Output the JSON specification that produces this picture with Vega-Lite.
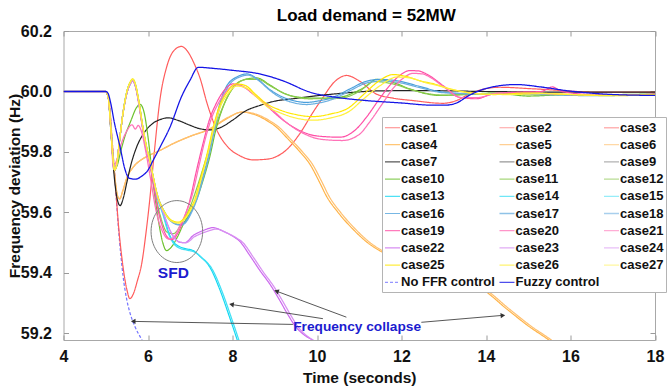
{
"$schema":"https://vega.github.io/schema/vega-lite/v6.json",
"width":591.5,"height":309,
"autosize":{"type":"none"},
"padding":{"left":63.5,"top":31,"right":12,"bottom":47},
"background":"white",
"config":{"view":{"stroke":"#a8a8a8","strokeWidth":1},"font":"Liberation Sans"},
"title":{"text":"Load demand = 52MW","fontSize":17,"fontWeight":"bold","font":"Liberation Sans","frame":"group","anchor":"middle","dx":7,"offset":-2,"color":"#000"},
"datasets":{
"curves":[
{"s":"No FFR control","t":4,"f":60},{"s":"No FFR control","t":5.0,"f":60},{"s":"No FFR control","t":5.05,"f":59.99},{"s":"No FFR control","t":5.1,"f":59.94},{"s":"No FFR control","t":5.15,"f":59.84},{"s":"No FFR control","t":5.22,"f":59.706},{"s":"No FFR control","t":5.3,"f":59.55},{"s":"No FFR control","t":5.41,"f":59.39},{"s":"No FFR control","t":5.5,"f":59.31},{"s":"No FFR control","t":5.57,"f":59.27},{"s":"No FFR control","t":5.7,"f":59.22},{"s":"No FFR control","t":5.85,"f":59.18},{"s":"No FFR control","t":5.95,"f":59.15},

{"s":"case1","t":4,"f":60},{"s":"case1","t":5.0,"f":60},{"s":"case1","t":5.05,"f":59.99},{"s":"case1","t":5.1,"f":59.94},{"s":"case1","t":5.15,"f":59.84},{"s":"case1","t":5.22,"f":59.71},{"s":"case1","t":5.3,"f":59.56},{"s":"case1","t":5.4,"f":59.43},{"s":"case1","t":5.5,"f":59.345},{"s":"case1","t":5.57,"f":59.315},{"s":"case1","t":5.65,"f":59.33},{"s":"case1","t":5.75,"f":59.375},{"s":"case1","t":5.85,"f":59.43},{"s":"case1","t":5.95,"f":59.53},{"s":"case1","t":6.04,"f":59.64},{"s":"case1","t":6.15,"f":59.8},{"s":"case1","t":6.28,"f":59.97},{"s":"case1","t":6.45,"f":60.085},{"s":"case1","t":6.6,"f":60.133},{"s":"case1","t":6.79,"f":60.149},{"s":"case1","t":6.95,"f":60.13},{"s":"case1","t":7.1,"f":60.09},{"s":"case1","t":7.23,"f":60.045},{"s":"case1","t":7.4,"f":59.96},{"s":"case1","t":7.62,"f":59.875},{"s":"case1","t":7.9,"f":59.815},{"s":"case1","t":8.17,"f":59.788},{"s":"case1","t":8.49,"f":59.774},{"s":"case1","t":8.8,"f":59.776},{"s":"case1","t":9.04,"f":59.785},{"s":"case1","t":9.3,"f":59.81},{"s":"case1","t":9.59,"f":59.86},{"s":"case1","t":9.9,"f":59.93},{"s":"case1","t":10.14,"f":59.98},{"s":"case1","t":10.4,"f":60.03},{"s":"case1","t":10.7,"f":60.053},{"s":"case1","t":11.0,"f":60.035},{"s":"case1","t":11.4,"f":59.992},{"s":"case1","t":11.8,"f":59.978},{"s":"case1","t":12.27,"f":59.97},{"s":"case1","t":12.98,"f":59.961},{"s":"case1","t":13.3,"f":59.97},{"s":"case1","t":13.61,"f":59.992},{"s":"case1","t":14.32,"f":60.014},{"s":"case1","t":15.1,"f":60.009},{"s":"case1","t":16.68,"f":59.998},{"s":"case1","t":18,"f":59.998},

{"s":"case4","t":4,"f":60},{"s":"case4","t":5.0,"f":60},{"s":"case4","t":5.06,"f":59.98},{"s":"case4","t":5.12,"f":59.88},{"s":"case4","t":5.2,"f":59.74},{"s":"case4","t":5.28,"f":59.655},{"s":"case4","t":5.33,"f":59.645},{"s":"case4","t":5.4,"f":59.67},{"s":"case4","t":5.5,"f":59.715},{"s":"case4","t":5.65,"f":59.75},{"s":"case4","t":5.85,"f":59.775},{"s":"case4","t":6.0,"f":59.787},{"s":"case4","t":6.28,"f":59.805},{"s":"case4","t":6.6,"f":59.828},{"s":"case4","t":7.0,"f":59.852},{"s":"case4","t":7.46,"f":59.875},{"s":"case4","t":7.9,"f":59.913},{"s":"case4","t":8.21,"f":59.932},{"s":"case4","t":8.5,"f":59.925},{"s":"case4","t":8.8,"f":59.905},{"s":"case4","t":9.04,"f":59.882},{"s":"case4","t":9.3,"f":59.845},{"s":"case4","t":9.6,"f":59.8},{"s":"case4","t":9.83,"f":59.76},{"s":"case4","t":10.06,"f":59.7},{"s":"case4","t":10.22,"f":59.655},{"s":"case4","t":10.5,"f":59.6},{"s":"case4","t":10.85,"f":59.545},{"s":"case4","t":11.2,"f":59.5},{"s":"case4","t":11.48,"f":59.474},{"s":"case4","t":12.0,"f":59.44},{"s":"case4","t":12.7,"f":59.405},{"s":"case4","t":13.3,"f":59.375},{"s":"case4","t":13.89,"f":59.348},{"s":"case4","t":14.5,"f":59.28},{"s":"case4","t":15.0,"f":59.225},{"s":"case4","t":15.5,"f":59.177},{"s":"case4","t":15.7,"f":59.155},

{"s":"case5","t":4,"f":60},{"s":"case5","t":5.0,"f":60},{"s":"case5","t":5.06,"f":59.98},{"s":"case5","t":5.12,"f":59.88},{"s":"case5","t":5.2,"f":59.74},{"s":"case5","t":5.28,"f":59.655},{"s":"case5","t":5.33,"f":59.645},{"s":"case5","t":5.4,"f":59.67},{"s":"case5","t":5.5,"f":59.715},{"s":"case5","t":5.65,"f":59.75},{"s":"case5","t":5.85,"f":59.775},{"s":"case5","t":6.0,"f":59.787},{"s":"case5","t":6.28,"f":59.805},{"s":"case5","t":6.6,"f":59.828},{"s":"case5","t":7.0,"f":59.852},{"s":"case5","t":7.46,"f":59.877},{"s":"case5","t":7.9,"f":59.915},{"s":"case5","t":8.25,"f":59.932},{"s":"case5","t":8.56,"f":59.925},{"s":"case5","t":8.86,"f":59.905},{"s":"case5","t":9.1,"f":59.882},{"s":"case5","t":9.36,"f":59.845},{"s":"case5","t":9.66,"f":59.8},{"s":"case5","t":9.89,"f":59.76},{"s":"case5","t":10.12,"f":59.7},{"s":"case5","t":10.28,"f":59.655},{"s":"case5","t":10.56,"f":59.6},{"s":"case5","t":10.91,"f":59.545},{"s":"case5","t":11.26,"f":59.5},{"s":"case5","t":11.54,"f":59.474},{"s":"case5","t":12.06,"f":59.44},{"s":"case5","t":12.76,"f":59.405},{"s":"case5","t":13.36,"f":59.375},{"s":"case5","t":13.95,"f":59.348},{"s":"case5","t":14.56,"f":59.28},{"s":"case5","t":15.06,"f":59.225},{"s":"case5","t":15.56,"f":59.177},{"s":"case5","t":15.76,"f":59.155},

{"s":"case7","t":4,"f":60},{"s":"case7","t":5.0,"f":60},{"s":"case7","t":5.06,"f":59.98},{"s":"case7","t":5.12,"f":59.87},{"s":"case7","t":5.2,"f":59.72},{"s":"case7","t":5.27,"f":59.645},{"s":"case7","t":5.34,"f":59.623},{"s":"case7","t":5.42,"f":59.65},{"s":"case7","t":5.5,"f":59.7},{"s":"case7","t":5.6,"f":59.76},{"s":"case7","t":5.73,"f":59.816},{"s":"case7","t":5.9,"f":59.862},{"s":"case7","t":6.1,"f":59.893},{"s":"case7","t":6.3,"f":59.908},{"s":"case7","t":6.48,"f":59.913},{"s":"case7","t":6.7,"f":59.905},{"s":"case7","t":7.0,"f":59.888},{"s":"case7","t":7.2,"f":59.878},{"s":"case7","t":7.46,"f":59.873},{"s":"case7","t":7.7,"f":59.88},{"s":"case7","t":8.0,"f":59.905},{"s":"case7","t":8.3,"f":59.935},{"s":"case7","t":8.65,"f":59.954},{"s":"case7","t":9.0,"f":59.968},{"s":"case7","t":9.43,"f":59.976},{"s":"case7","t":10.0,"f":59.986},{"s":"case7","t":10.5,"f":59.993},{"s":"case7","t":11.48,"f":60.002},{"s":"case7","t":12.5,"f":60.003},{"s":"case7","t":14,"f":60.0},{"s":"case7","t":16,"f":59.998},{"s":"case7","t":18,"f":59.998},

{"s":"case10","t":4,"f":60},{"s":"case10","t":5.0,"f":60},{"s":"case10","t":5.06,"f":59.98},{"s":"case10","t":5.12,"f":59.88},{"s":"case10","t":5.17,"f":59.78},{"s":"case10","t":5.21,"f":59.745},{"s":"case10","t":5.27,"f":59.755},{"s":"case10","t":5.35,"f":59.8},{"s":"case10","t":5.45,"f":59.85},{"s":"case10","t":5.6,"f":59.905},{"s":"case10","t":5.72,"f":59.945},{"s":"case10","t":5.81,"f":59.958},{"s":"case10","t":5.9,"f":59.935},{"s":"case10","t":6.0,"f":59.85},{"s":"case10","t":6.12,"f":59.7},{"s":"case10","t":6.25,"f":59.57},{"s":"case10","t":6.35,"f":59.5},{"s":"case10","t":6.44,"f":59.474},{"s":"case10","t":6.55,"f":59.485},{"s":"case10","t":6.7,"f":59.52},{"s":"case10","t":6.85,"f":59.565},{"s":"case10","t":7.0,"f":59.6},{"s":"case10","t":7.17,"f":59.65},{"s":"case10","t":7.3,"f":59.705},{"s":"case10","t":7.46,"f":59.783},{"s":"case10","t":7.6,"f":59.87},{"s":"case10","t":7.78,"f":59.95},{"s":"case10","t":8.01,"f":60.012},{"s":"case10","t":8.25,"f":60.038},{"s":"case10","t":8.57,"f":60.045},{"s":"case10","t":8.9,"f":60.02},{"s":"case10","t":9.2,"f":59.995},{"s":"case10","t":9.59,"f":59.981},{"s":"case10","t":10.0,"f":59.978},{"s":"case10","t":10.54,"f":59.981},{"s":"case10","t":10.85,"f":59.995},{"s":"case10","t":11.17,"f":60.018},{"s":"case10","t":11.4,"f":60.04},{"s":"case10","t":11.8,"f":60.03},{"s":"case10","t":12.19,"f":60.009},{"s":"case10","t":12.9,"f":59.987},{"s":"case10","t":13.5,"f":59.99},{"s":"case10","t":14.2,"f":59.995},{"s":"case10","t":15,"f":59.985},{"s":"case10","t":16,"f":59.99},{"s":"case10","t":17,"f":59.99},{"s":"case10","t":18,"f":59.992},

{"s":"case11","t":4,"f":60},{"s":"case11","t":5.0,"f":60},{"s":"case11","t":5.06,"f":59.98},{"s":"case11","t":5.12,"f":59.88},{"s":"case11","t":5.17,"f":59.78},{"s":"case11","t":5.21,"f":59.74},{"s":"case11","t":5.26,"f":59.76},{"s":"case11","t":5.32,"f":59.83},{"s":"case11","t":5.4,"f":59.92},{"s":"case11","t":5.5,"f":59.995},{"s":"case11","t":5.58,"f":60.025},{"s":"case11","t":5.64,"f":60.035},{"s":"case11","t":5.7,"f":60.02},{"s":"case11","t":5.78,"f":59.965},{"s":"case11","t":5.88,"f":59.875},{"s":"case11","t":5.96,"f":59.815},{"s":"case11","t":6.04,"f":59.765},{"s":"case11","t":6.15,"f":59.68},{"s":"case11","t":6.3,"f":59.585},{"s":"case11","t":6.45,"f":59.535},{"s":"case11","t":6.6,"f":59.53},{"s":"case11","t":6.8,"f":59.565},{"s":"case11","t":7.0,"f":59.62},{"s":"case11","t":7.2,"f":59.7},{"s":"case11","t":7.4,"f":59.79},{"s":"case11","t":7.6,"f":59.885},{"s":"case11","t":7.8,"f":59.958},{"s":"case11","t":8.05,"f":60.018},{"s":"case11","t":8.35,"f":60.04},{"s":"case11","t":8.6,"f":60.04},{"s":"case11","t":8.9,"f":60.018},{"s":"case11","t":9.3,"f":59.99},{"s":"case11","t":9.8,"f":59.976},{"s":"case11","t":10.5,"f":59.977},{"s":"case11","t":11.0,"f":60.0},{"s":"case11","t":11.35,"f":60.033},{"s":"case11","t":11.8,"f":60.025},{"s":"case11","t":12.3,"f":60.003},{"s":"case11","t":13,"f":59.988},{"s":"case11","t":14,"f":59.993},{"s":"case11","t":15,"f":59.99},{"s":"case11","t":16.5,"f":59.99},{"s":"case11","t":18,"f":59.99},

{"s":"case13","t":4,"f":60},{"s":"case13","t":5.0,"f":60},{"s":"case13","t":5.06,"f":59.98},{"s":"case13","t":5.12,"f":59.88},{"s":"case13","t":5.17,"f":59.78},{"s":"case13","t":5.21,"f":59.74},{"s":"case13","t":5.26,"f":59.76},{"s":"case13","t":5.32,"f":59.83},{"s":"case13","t":5.4,"f":59.92},{"s":"case13","t":5.5,"f":60.0},{"s":"case13","t":5.58,"f":60.03},{"s":"case13","t":5.64,"f":60.04},{"s":"case13","t":5.7,"f":60.025},{"s":"case13","t":5.78,"f":59.97},{"s":"case13","t":5.88,"f":59.88},{"s":"case13","t":5.96,"f":59.82},{"s":"case13","t":6.04,"f":59.772},{"s":"case13","t":6.12,"f":59.72},{"s":"case13","t":6.2,"f":59.665},{"s":"case13","t":6.36,"f":59.596},{"s":"case13","t":6.5,"f":59.53},{"s":"case13","t":6.62,"f":59.5},{"s":"case13","t":6.75,"f":59.487},{"s":"case13","t":6.91,"f":59.48},{"s":"case13","t":7.07,"f":59.474},{"s":"case13","t":7.23,"f":59.455},{"s":"case13","t":7.46,"f":59.42},{"s":"case13","t":7.7,"f":59.345},{"s":"case13","t":7.94,"f":59.25},{"s":"case13","t":8.09,"f":59.188},{"s":"case13","t":8.2,"f":59.14},

{"s":"case14","t":4,"f":60},{"s":"case14","t":5.0,"f":60},{"s":"case14","t":5.06,"f":59.98},{"s":"case14","t":5.12,"f":59.88},{"s":"case14","t":5.17,"f":59.78},{"s":"case14","t":5.21,"f":59.74},{"s":"case14","t":5.26,"f":59.76},{"s":"case14","t":5.32,"f":59.83},{"s":"case14","t":5.4,"f":59.92},{"s":"case14","t":5.5,"f":59.995},{"s":"case14","t":5.58,"f":60.025},{"s":"case14","t":5.64,"f":60.035},{"s":"case14","t":5.7,"f":60.02},{"s":"case14","t":5.78,"f":59.965},{"s":"case14","t":5.88,"f":59.875},{"s":"case14","t":5.96,"f":59.815},{"s":"case14","t":6.04,"f":59.768},{"s":"case14","t":6.12,"f":59.715},{"s":"case14","t":6.2,"f":59.66},{"s":"case14","t":6.36,"f":59.59},{"s":"case14","t":6.5,"f":59.525},{"s":"case14","t":6.62,"f":59.495},{"s":"case14","t":6.75,"f":59.482},{"s":"case14","t":6.95,"f":59.475},{"s":"case14","t":7.12,"f":59.468},{"s":"case14","t":7.28,"f":59.45},{"s":"case14","t":7.51,"f":59.415},{"s":"case14","t":7.75,"f":59.34},{"s":"case14","t":7.99,"f":59.245},{"s":"case14","t":8.14,"f":59.183},{"s":"case14","t":8.25,"f":59.135},

{"s":"case16","t":4,"f":60},{"s":"case16","t":5.0,"f":60},{"s":"case16","t":5.06,"f":59.98},{"s":"case16","t":5.12,"f":59.88},{"s":"case16","t":5.17,"f":59.78},{"s":"case16","t":5.21,"f":59.74},{"s":"case16","t":5.26,"f":59.76},{"s":"case16","t":5.32,"f":59.83},{"s":"case16","t":5.4,"f":59.92},{"s":"case16","t":5.5,"f":60.0},{"s":"case16","t":5.58,"f":60.03},{"s":"case16","t":5.64,"f":60.038},{"s":"case16","t":5.7,"f":60.022},{"s":"case16","t":5.78,"f":59.97},{"s":"case16","t":5.88,"f":59.88},{"s":"case16","t":5.96,"f":59.82},{"s":"case16","t":6.04,"f":59.772},{"s":"case16","t":6.12,"f":59.72},{"s":"case16","t":6.2,"f":59.67},{"s":"case16","t":6.4,"f":59.6},{"s":"case16","t":6.6,"f":59.567},{"s":"case16","t":6.77,"f":59.56},{"s":"case16","t":6.9,"f":59.572},{"s":"case16","t":7.0,"f":59.597},{"s":"case16","t":7.13,"f":59.64},{"s":"case16","t":7.3,"f":59.72},{"s":"case16","t":7.42,"f":59.783},{"s":"case16","t":7.55,"f":59.87},{"s":"case16","t":7.7,"f":59.96},{"s":"case16","t":7.85,"f":60.015},{"s":"case16","t":8.1,"f":60.048},{"s":"case16","t":8.35,"f":60.058},{"s":"case16","t":8.6,"f":60.04},{"s":"case16","t":8.85,"f":60.01},{"s":"case16","t":9.2,"f":59.981},{"s":"case16","t":9.5,"f":59.968},{"s":"case16","t":9.75,"f":59.964},{"s":"case16","t":10.0,"f":59.968},{"s":"case16","t":10.38,"f":59.981},{"s":"case16","t":10.8,"f":60.01},{"s":"case16","t":11.17,"f":60.034},{"s":"case16","t":11.5,"f":60.04},{"s":"case16","t":11.95,"f":60.034},{"s":"case16","t":12.4,"f":60.018},{"s":"case16","t":12.9,"f":60.0},{"s":"case16","t":13.5,"f":59.993},{"s":"case16","t":14.5,"f":59.993},{"s":"case16","t":15.5,"f":59.99},{"s":"case16","t":16.5,"f":59.986},{"s":"case16","t":18,"f":59.99},

{"s":"case17","t":4,"f":60},{"s":"case17","t":5.0,"f":60},{"s":"case17","t":5.06,"f":59.98},{"s":"case17","t":5.12,"f":59.88},{"s":"case17","t":5.17,"f":59.78},{"s":"case17","t":5.21,"f":59.74},{"s":"case17","t":5.26,"f":59.76},{"s":"case17","t":5.32,"f":59.83},{"s":"case17","t":5.4,"f":59.92},{"s":"case17","t":5.5,"f":59.998},{"s":"case17","t":5.58,"f":60.028},{"s":"case17","t":5.64,"f":60.036},{"s":"case17","t":5.7,"f":60.02},{"s":"case17","t":5.78,"f":59.968},{"s":"case17","t":5.88,"f":59.878},{"s":"case17","t":5.96,"f":59.818},{"s":"case17","t":6.04,"f":59.77},{"s":"case17","t":6.12,"f":59.718},{"s":"case17","t":6.2,"f":59.668},{"s":"case17","t":6.4,"f":59.598},{"s":"case17","t":6.6,"f":59.565},{"s":"case17","t":6.79,"f":59.558},{"s":"case17","t":6.92,"f":59.572},{"s":"case17","t":7.02,"f":59.597},{"s":"case17","t":7.15,"f":59.64},{"s":"case17","t":7.32,"f":59.72},{"s":"case17","t":7.44,"f":59.783},{"s":"case17","t":7.57,"f":59.87},{"s":"case17","t":7.72,"f":59.958},{"s":"case17","t":7.88,"f":60.012},{"s":"case17","t":8.12,"f":60.045},{"s":"case17","t":8.38,"f":60.054},{"s":"case17","t":8.63,"f":60.035},{"s":"case17","t":8.88,"f":60.004},{"s":"case17","t":9.2,"f":59.975},{"s":"case17","t":9.5,"f":59.961},{"s":"case17","t":9.75,"f":59.957},{"s":"case17","t":10.0,"f":59.961},{"s":"case17","t":10.38,"f":59.975},{"s":"case17","t":10.8,"f":60.004},{"s":"case17","t":11.17,"f":60.028},{"s":"case17","t":11.55,"f":60.035},{"s":"case17","t":12.0,"f":60.028},{"s":"case17","t":12.45,"f":60.012},{"s":"case17","t":13,"f":59.996},{"s":"case17","t":14,"f":59.992},{"s":"case17","t":15.5,"f":59.99},{"s":"case17","t":18,"f":59.99},

{"s":"case19","t":4,"f":60},{"s":"case19","t":5.0,"f":60},{"s":"case19","t":5.06,"f":59.98},{"s":"case19","t":5.12,"f":59.88},{"s":"case19","t":5.17,"f":59.78},{"s":"case19","t":5.21,"f":59.74},{"s":"case19","t":5.26,"f":59.76},{"s":"case19","t":5.32,"f":59.83},{"s":"case19","t":5.4,"f":59.92},{"s":"case19","t":5.5,"f":59.995},{"s":"case19","t":5.58,"f":60.025},{"s":"case19","t":5.64,"f":60.035},{"s":"case19","t":5.7,"f":60.018},{"s":"case19","t":5.78,"f":59.96},{"s":"case19","t":5.88,"f":59.87},{"s":"case19","t":5.96,"f":59.81},{"s":"case19","t":6.04,"f":59.76},{"s":"case19","t":6.12,"f":59.7},{"s":"case19","t":6.22,"f":59.62},{"s":"case19","t":6.35,"f":59.55},{"s":"case19","t":6.45,"f":59.52},{"s":"case19","t":6.56,"f":59.51},{"s":"case19","t":6.7,"f":59.53},{"s":"case19","t":6.85,"f":59.58},{"s":"case19","t":6.99,"f":59.64},{"s":"case19","t":7.15,"f":59.74},{"s":"case19","t":7.3,"f":59.827},{"s":"case19","t":7.45,"f":59.905},{"s":"case19","t":7.62,"f":59.962},{"s":"case19","t":7.8,"f":60.003},{"s":"case19","t":8.01,"f":60.025},{"s":"case19","t":8.2,"f":60.02},{"s":"case19","t":8.5,"f":59.99},{"s":"case19","t":8.8,"f":59.954},{"s":"case19","t":9.2,"f":59.905},{"s":"case19","t":9.59,"f":59.871},{"s":"case19","t":10.0,"f":59.853},{"s":"case19","t":10.54,"f":59.849},{"s":"case19","t":10.9,"f":59.872},{"s":"case19","t":11.17,"f":59.915},{"s":"case19","t":11.45,"f":59.97},{"s":"case19","t":11.72,"f":60.02},{"s":"case19","t":11.95,"f":60.052},{"s":"case19","t":12.19,"f":60.069},{"s":"case19","t":12.4,"f":60.068},{"s":"case19","t":12.59,"f":60.058},{"s":"case19","t":12.98,"f":60.02},{"s":"case19","t":13.37,"f":59.981},{"s":"case19","t":13.77,"f":59.976},{"s":"case19","t":14.16,"f":59.992},{"s":"case19","t":14.8,"f":59.998},{"s":"case19","t":15.3,"f":60.0},{"s":"case19","t":15.57,"f":60.015},{"s":"case19","t":15.8,"f":60.0},{"s":"case19","t":16.5,"f":59.99},{"s":"case19","t":17.3,"f":59.988},{"s":"case19","t":18,"f":59.992},

{"s":"case20","t":4,"f":60},{"s":"case20","t":5.0,"f":60},{"s":"case20","t":5.06,"f":59.98},{"s":"case20","t":5.12,"f":59.88},{"s":"case20","t":5.18,"f":59.75},{"s":"case20","t":5.25,"f":59.77},{"s":"case20","t":5.35,"f":59.82},{"s":"case20","t":5.5,"f":59.87},{"s":"case20","t":5.62,"f":59.89},{"s":"case20","t":5.7,"f":59.876},{"s":"case20","t":5.77,"f":59.888},{"s":"case20","t":5.84,"f":59.87},{"s":"case20","t":5.95,"f":59.8},{"s":"case20","t":6.05,"f":59.72},{"s":"case20","t":6.2,"f":59.6},{"s":"case20","t":6.35,"f":59.535},{"s":"case20","t":6.5,"f":59.512},{"s":"case20","t":6.62,"f":59.52},{"s":"case20","t":6.75,"f":59.555},{"s":"case20","t":6.9,"f":59.6},{"s":"case20","t":7.05,"f":59.66},{"s":"case20","t":7.2,"f":59.75},{"s":"case20","t":7.35,"f":59.84},{"s":"case20","t":7.5,"f":59.91},{"s":"case20","t":7.68,"f":59.965},{"s":"case20","t":7.87,"f":60.003},{"s":"case20","t":8.07,"f":60.022},{"s":"case20","t":8.3,"f":60.012},{"s":"case20","t":8.6,"f":59.98},{"s":"case20","t":8.9,"f":59.945},{"s":"case20","t":9.3,"f":59.895},{"s":"case20","t":9.7,"f":59.86},{"s":"case20","t":10.1,"f":59.842},{"s":"case20","t":10.6,"f":59.838},{"s":"case20","t":11.0,"f":59.858},{"s":"case20","t":11.25,"f":59.9},{"s":"case20","t":11.55,"f":59.96},{"s":"case20","t":11.8,"f":60.01},{"s":"case20","t":12.05,"f":60.045},{"s":"case20","t":12.27,"f":60.06},{"s":"case20","t":12.5,"f":60.058},{"s":"case20","t":12.7,"f":60.045},{"s":"case20","t":13.05,"f":60.01},{"s":"case20","t":13.4,"f":59.98},{"s":"case20","t":13.8,"f":59.98},{"s":"case20","t":14.3,"f":59.995},{"s":"case20","t":15,"f":59.995},{"s":"case20","t":16,"f":59.99},{"s":"case20","t":17,"f":59.99},{"s":"case20","t":18,"f":59.99},

{"s":"case22","t":4,"f":60},{"s":"case22","t":5.0,"f":60},{"s":"case22","t":5.06,"f":59.98},{"s":"case22","t":5.12,"f":59.88},{"s":"case22","t":5.17,"f":59.78},{"s":"case22","t":5.21,"f":59.74},{"s":"case22","t":5.26,"f":59.76},{"s":"case22","t":5.32,"f":59.83},{"s":"case22","t":5.4,"f":59.92},{"s":"case22","t":5.5,"f":59.995},{"s":"case22","t":5.58,"f":60.025},{"s":"case22","t":5.64,"f":60.035},{"s":"case22","t":5.7,"f":60.02},{"s":"case22","t":5.78,"f":59.965},{"s":"case22","t":5.88,"f":59.875},{"s":"case22","t":5.96,"f":59.815},{"s":"case22","t":6.04,"f":59.768},{"s":"case22","t":6.12,"f":59.715},{"s":"case22","t":6.2,"f":59.665},{"s":"case22","t":6.36,"f":59.6},{"s":"case22","t":6.56,"f":59.53},{"s":"case22","t":6.75,"f":59.502},{"s":"case22","t":6.87,"f":59.5},{"s":"case22","t":7.07,"f":59.524},{"s":"case22","t":7.3,"f":59.54},{"s":"case22","t":7.54,"f":59.55},{"s":"case22","t":7.78,"f":59.538},{"s":"case22","t":8.0,"f":59.522},{"s":"case22","t":8.17,"f":59.505},{"s":"case22","t":8.4,"f":59.46},{"s":"case22","t":8.65,"f":59.408},{"s":"case22","t":8.9,"f":59.36},{"s":"case22","t":9.12,"f":59.309},{"s":"case22","t":9.3,"f":59.265},{"s":"case22","t":9.51,"f":59.22},{"s":"case22","t":9.7,"f":59.195},{"s":"case22","t":9.9,"f":59.177},{"s":"case22","t":10.0,"f":59.165},

{"s":"case23","t":4,"f":60},{"s":"case23","t":5.0,"f":60},{"s":"case23","t":5.06,"f":59.98},{"s":"case23","t":5.12,"f":59.88},{"s":"case23","t":5.17,"f":59.78},{"s":"case23","t":5.21,"f":59.74},{"s":"case23","t":5.26,"f":59.76},{"s":"case23","t":5.32,"f":59.83},{"s":"case23","t":5.4,"f":59.92},{"s":"case23","t":5.5,"f":59.995},{"s":"case23","t":5.58,"f":60.025},{"s":"case23","t":5.64,"f":60.035},{"s":"case23","t":5.7,"f":60.02},{"s":"case23","t":5.78,"f":59.965},{"s":"case23","t":5.88,"f":59.875},{"s":"case23","t":5.96,"f":59.815},{"s":"case23","t":6.04,"f":59.768},{"s":"case23","t":6.12,"f":59.715},{"s":"case23","t":6.2,"f":59.665},{"s":"case23","t":6.36,"f":59.6},{"s":"case23","t":6.56,"f":59.53},{"s":"case23","t":6.75,"f":59.502},{"s":"case23","t":6.9,"f":59.5},{"s":"case23","t":7.1,"f":59.52},{"s":"case23","t":7.35,"f":59.535},{"s":"case23","t":7.62,"f":59.545},{"s":"case23","t":7.86,"f":59.533},{"s":"case23","t":8.08,"f":59.517},{"s":"case23","t":8.25,"f":59.5},{"s":"case23","t":8.48,"f":59.455},{"s":"case23","t":8.73,"f":59.403},{"s":"case23","t":8.98,"f":59.355},{"s":"case23","t":9.2,"f":59.304},{"s":"case23","t":9.38,"f":59.26},{"s":"case23","t":9.59,"f":59.215},{"s":"case23","t":9.78,"f":59.19},{"s":"case23","t":9.98,"f":59.172},{"s":"case23","t":10.08,"f":59.16},

{"s":"case25","t":4,"f":60},{"s":"case25","t":5.0,"f":60},{"s":"case25","t":5.06,"f":59.98},{"s":"case25","t":5.12,"f":59.88},{"s":"case25","t":5.17,"f":59.78},{"s":"case25","t":5.21,"f":59.74},{"s":"case25","t":5.26,"f":59.76},{"s":"case25","t":5.32,"f":59.83},{"s":"case25","t":5.4,"f":59.92},{"s":"case25","t":5.5,"f":60.0},{"s":"case25","t":5.58,"f":60.032},{"s":"case25","t":5.64,"f":60.042},{"s":"case25","t":5.7,"f":60.026},{"s":"case25","t":5.78,"f":59.972},{"s":"case25","t":5.88,"f":59.882},{"s":"case25","t":5.96,"f":59.822},{"s":"case25","t":6.04,"f":59.774},{"s":"case25","t":6.12,"f":59.722},{"s":"case25","t":6.2,"f":59.67},{"s":"case25","t":6.4,"f":59.6},{"s":"case25","t":6.55,"f":59.575},{"s":"case25","t":6.72,"f":59.568},{"s":"case25","t":6.85,"f":59.58},{"s":"case25","t":7.0,"f":59.612},{"s":"case25","t":7.1,"f":59.64},{"s":"case25","t":7.25,"f":59.715},{"s":"case25","t":7.38,"f":59.783},{"s":"case25","t":7.55,"f":59.885},{"s":"case25","t":7.7,"f":59.955},{"s":"case25","t":7.86,"f":59.995},{"s":"case25","t":8.09,"f":60.025},{"s":"case25","t":8.3,"f":60.02},{"s":"case25","t":8.55,"f":59.99},{"s":"case25","t":8.8,"f":59.96},{"s":"case25","t":9.1,"f":59.94},{"s":"case25","t":9.43,"f":59.926},{"s":"case25","t":9.9,"f":59.917},{"s":"case25","t":10.3,"f":59.925},{"s":"case25","t":10.77,"f":59.948},{"s":"case25","t":11.1,"f":59.99},{"s":"case25","t":11.48,"f":60.036},{"s":"case25","t":11.8,"f":60.056},{"s":"case25","t":12.1,"f":60.05},{"s":"case25","t":12.45,"f":60.035},{"s":"case25","t":12.74,"f":60.026},{"s":"case25","t":13.14,"f":60.009},{"s":"case25","t":13.6,"f":59.996},{"s":"case25","t":14.2,"f":59.99},{"s":"case25","t":15,"f":59.995},{"s":"case25","t":16,"f":59.99},{"s":"case25","t":17,"f":59.986},{"s":"case25","t":18,"f":59.99},

{"s":"case26","t":4,"f":60},{"s":"case26","t":5.0,"f":60},{"s":"case26","t":5.06,"f":59.98},{"s":"case26","t":5.12,"f":59.88},{"s":"case26","t":5.17,"f":59.78},{"s":"case26","t":5.21,"f":59.74},{"s":"case26","t":5.26,"f":59.76},{"s":"case26","t":5.32,"f":59.83},{"s":"case26","t":5.4,"f":59.92},{"s":"case26","t":5.5,"f":60.0},{"s":"case26","t":5.58,"f":60.03},{"s":"case26","t":5.64,"f":60.04},{"s":"case26","t":5.7,"f":60.024},{"s":"case26","t":5.78,"f":59.97},{"s":"case26","t":5.88,"f":59.88},{"s":"case26","t":5.96,"f":59.82},{"s":"case26","t":6.04,"f":59.772},{"s":"case26","t":6.12,"f":59.72},{"s":"case26","t":6.2,"f":59.668},{"s":"case26","t":6.4,"f":59.598},{"s":"case26","t":6.55,"f":59.572},{"s":"case26","t":6.72,"f":59.565},{"s":"case26","t":6.86,"f":59.577},{"s":"case26","t":7.02,"f":59.61},{"s":"case26","t":7.12,"f":59.64},{"s":"case26","t":7.27,"f":59.715},{"s":"case26","t":7.4,"f":59.783},{"s":"case26","t":7.57,"f":59.885},{"s":"case26","t":7.72,"f":59.952},{"s":"case26","t":7.88,"f":59.99},{"s":"case26","t":8.1,"f":60.018},{"s":"case26","t":8.32,"f":60.012},{"s":"case26","t":8.57,"f":59.982},{"s":"case26","t":8.82,"f":59.95},{"s":"case26","t":9.12,"f":59.93},{"s":"case26","t":9.45,"f":59.914},{"s":"case26","t":9.9,"f":59.905},{"s":"case26","t":10.3,"f":59.912},{"s":"case26","t":10.77,"f":59.935},{"s":"case26","t":11.1,"f":59.975},{"s":"case26","t":11.5,"f":60.02},{"s":"case26","t":11.9,"f":60.048},{"s":"case26","t":12.2,"f":60.045},{"s":"case26","t":12.55,"f":60.03},{"s":"case26","t":12.85,"f":60.02},{"s":"case26","t":13.25,"f":60.005},{"s":"case26","t":13.7,"f":59.994},{"s":"case26","t":14.5,"f":59.99},{"s":"case26","t":15.5,"f":59.993},{"s":"case26","t":16.5,"f":59.988},{"s":"case26","t":18,"f":59.988},

{"s":"Fuzzy control","t":4,"f":60},{"s":"Fuzzy control","t":5.0,"f":60},{"s":"Fuzzy control","t":5.05,"f":59.995},{"s":"Fuzzy control","t":5.12,"f":59.96},{"s":"Fuzzy control","t":5.2,"f":59.9},{"s":"Fuzzy control","t":5.34,"f":59.816},{"s":"Fuzzy control","t":5.45,"f":59.745},{"s":"Fuzzy control","t":5.55,"f":59.714},{"s":"Fuzzy control","t":5.7,"f":59.71},{"s":"Fuzzy control","t":5.85,"f":59.72},{"s":"Fuzzy control","t":6.0,"f":59.74},{"s":"Fuzzy control","t":6.12,"f":59.772},{"s":"Fuzzy control","t":6.3,"f":59.82},{"s":"Fuzzy control","t":6.52,"f":59.882},{"s":"Fuzzy control","t":6.8,"f":59.985},{"s":"Fuzzy control","t":6.99,"f":60.036},{"s":"Fuzzy control","t":7.19,"f":60.08},{"s":"Fuzzy control","t":7.5,"f":60.077},{"s":"Fuzzy control","t":8.0,"f":60.07},{"s":"Fuzzy control","t":8.65,"f":60.058},{"s":"Fuzzy control","t":9.2,"f":60.035},{"s":"Fuzzy control","t":9.83,"f":59.998},{"s":"Fuzzy control","t":10.5,"f":59.98},{"s":"Fuzzy control","t":11.17,"f":59.97},{"s":"Fuzzy control","t":12.0,"f":59.962},{"s":"Fuzzy control","t":12.7,"f":59.955},{"s":"Fuzzy control","t":13.06,"f":59.955},{"s":"Fuzzy control","t":13.3,"f":59.962},{"s":"Fuzzy control","t":13.6,"f":59.987},{"s":"Fuzzy control","t":14.0,"f":60.01},{"s":"Fuzzy control","t":14.7,"f":60.023},{"s":"Fuzzy control","t":15.3,"f":60.015},{"s":"Fuzzy control","t":15.9,"f":60.003},{"s":"Fuzzy control","t":17.0,"f":59.99},{"s":"Fuzzy control","t":18,"f":59.987}
],
"arrows":[
{"id":1,"t1":10.695,"f1":59.254,"t2":9.04,"f2":59.34},
{"id":2,"t1":10.14,"f1":59.249,"t2":7.976,"f2":59.296},
{"id":3,"t1":9.43,"f1":59.23,"t2":5.65,"f2":59.24},
{"id":4,"t1":12.47,"f1":59.237,"t2":14.4,"f2":59.26}
]
},
"layer":[
{"data":{"name":"curves"},
 "mark":{"type":"line","interpolate":"monotone","clip":true},
 "encoding":{
  "x":{"field":"t","type":"quantitative","scale":{"domain":[4,18],"nice":false,"zero":false},
   "axis":{"orient":"bottom","values":[4,6,8,10,12,14,16,18],"title":"Time (seconds)","grid":false,"domain":false,"tickColor":"#9a9a9a","tickSize":-5,"labelPadding":13,"labelFontSize":16,"labelFontWeight":"bold","labelFont":"Liberation Sans","labelColor":"#111","titleFontSize":15.5,"titleFontWeight":"bold","titleFont":"Liberation Sans","titleColor":"#111","titleX":295.75,"titleY":37,"titleBaseline":"middle","titleAlign":"center","labelFlush":false}},
  "y":{"field":"f","type":"quantitative","scale":{"domain":[59.1785,60.2],"nice":false,"zero":false},
   "axis":{"orient":"left","values":[59.2,59.4,59.6,59.8,60,60.2],"title":"Frequency deviation (Hz)","grid":false,"domain":false,"tickColor":"#9a9a9a","tickSize":-5,"labelPadding":17,"labelFontSize":16,"labelFontWeight":"bold","labelFont":"Liberation Sans","labelColor":"#111","titleFontSize":15.5,"titleFontWeight":"bold","titleFont":"Liberation Sans","titleColor":"#111","titleX":-49,"titleY":154.5,"titleAngle":270,"titleBaseline":"middle","titleAlign":"center","labelFlush":false}},
  "color":{"field":"s","type":"nominal",
   "scale":{"domain":["case1","case4","case7","case10","case13","case16","case19","case22","case25","No FFR control","case2","case5","case8","case11","case14","case17","case20","case23","case26","Fuzzy control","case3","case6","case9","case12","case15","case18","case21","case24","case27"],
    "range":["#ff5c5c","#ffb347","#222222","#6cc22e","#14d8f2","#4a9fdc","#ff4fa6","#cc6aee","#ffe800","#7474ff","#ff8080","#ffc070","#777777","#8ccb50","#40e0f5","#6aaee0","#ff72b8","#d890f2","#fff040","#1414e6","#ff9c9c","#ffcc88","#999999","#a2d272","#74e8f8","#8cc0e8","#ff92c8","#e2aaf5","#fff580"]},
   "legend":{"orient":"none","legendX":318.5,"legendY":86,"columns":3,"title":null,"gridAlign":"each","fillColor":"white","strokeColor":"#b4b4b4","padding":2,"symbolType":"stroke","symbolSize":225,"symbolStrokeWidth":1.2,"symbolOpacity":0.75,"labelFontSize":13,"labelFontWeight":"bold","labelFont":"Liberation Sans","labelColor":"#111","labelOffset":0,"rowPadding":1.2,"columnPadding":1.5,"labelLimit":200}},
  "strokeDash":{"field":"s","type":"nominal",
   "scale":{"domain":["case1","case4","case7","case10","case13","case16","case19","case22","case25","No FFR control","case2","case5","case8","case11","case14","case17","case20","case23","case26","Fuzzy control","case3","case6","case9","case12","case15","case18","case21","case24","case27"],
    "range":[[1,0],[1,0],[1,0],[1,0],[1,0],[1,0],[1,0],[1,0],[1,0],[3,2],[1,0],[1,0],[1,0],[1,0],[1,0],[1,0],[1,0],[1,0],[1,0],[1,0],[1,0],[1,0],[1,0],[1,0],[1,0],[1,0],[1,0],[1,0],[1,0]]}},
  "strokeWidth":{"field":"s","type":"nominal",
   "scale":{"domain":["case1","case4","case7","case10","case13","case16","case19","case22","case25","No FFR control","case2","case5","case8","case11","case14","case17","case20","case23","case26","Fuzzy control","case3","case6","case9","case12","case15","case18","case21","case24","case27"],
    "range":[1.2,1.3,1.2,1.2,1.2,1.2,1.2,1.2,1.2,1.1,1.2,1.3,1.2,1.2,1.2,1.2,1.2,1.2,1.2,2,1.2,1.3,1.2,1.2,1.2,1.2,1.2,1.2,1.2]}}
 }},
{"data":{"name":"arrows"},
 "mark":{"type":"rule","color":"#444444","strokeWidth":0.9},
 "encoding":{"x":{"field":"t1","type":"quantitative","axis":null},"y":{"field":"f1","type":"quantitative","axis":null},"x2":{"field":"t2"},"y2":{"field":"f2"}}},
{"data":{"name":"arrows"},"transform":[{"filter":"datum.id==1"}],
 "mark":{"type":"point","shape":"triangle-left","filled":true,"color":"#333","size":28,"angle":20,"opacity":1},
 "encoding":{"x":{"field":"t2","type":"quantitative","axis":null},"y":{"field":"f2","type":"quantitative","axis":null}}},
{"data":{"name":"arrows"},"transform":[{"filter":"datum.id==2"}],
 "mark":{"type":"point","shape":"triangle-left","filled":true,"color":"#333","size":28,"angle":9,"opacity":1},
 "encoding":{"x":{"field":"t2","type":"quantitative","axis":null},"y":{"field":"f2","type":"quantitative","axis":null}}},
{"data":{"name":"arrows"},"transform":[{"filter":"datum.id==3"}],
 "mark":{"type":"point","shape":"triangle-left","filled":true,"color":"#333","size":28,"angle":1,"opacity":1},
 "encoding":{"x":{"field":"t2","type":"quantitative","axis":null},"y":{"field":"f2","type":"quantitative","axis":null}}},
{"data":{"name":"arrows"},"transform":[{"filter":"datum.id==4"}],
 "mark":{"type":"point","shape":"triangle-right","filled":true,"color":"#333","size":28,"angle":355,"opacity":1},
 "encoding":{"x":{"field":"t2","type":"quantitative","axis":null},"y":{"field":"f2","type":"quantitative","axis":null}}},
{"data":{"values":[{"t":6.683,"f":59.537}]},
 "mark":{"type":"point","shape":"M 1 0 A 1 1.2 0 1 1 -1 0 A 1 1.2 0 1 1 1 0 Z","filled":false,"color":"#808080","strokeWidth":1,"size":2663,"opacity":1},
 "encoding":{"x":{"field":"t","type":"quantitative","axis":{"orient":"top","labels":false,"title":null,"domain":false,"grid":false,"values":[4,6,8,10,12,14,16,18],"tickSize":-5,"tickColor":"#9a9a9a"}},
  "y":{"field":"f","type":"quantitative","axis":{"orient":"right","labels":false,"title":null,"domain":false,"grid":false,"values":[59.2,59.4,59.6,59.8,60,60.2],"tickSize":-5,"tickColor":"#9a9a9a"}}}},
{"data":{"values":[{"txt":"SFD","t":6.6,"f":59.4}]},
 "mark":{"type":"text","font":"Liberation Sans","fontWeight":"bold","fontSize":15.5,"color":"#1c1ccf","baseline":"middle","align":"center"},
 "encoding":{"x":{"field":"t","type":"quantitative","axis":null},"y":{"field":"f","type":"quantitative","axis":null},"text":{"field":"txt"}}},
{"data":{"values":[{"txt":"Frequency collapse","t":10.95,"f":59.223}]},
 "mark":{"type":"text","font":"Liberation Sans","fontWeight":"bold","fontSize":13.7,"color":"#1c1ccf","baseline":"middle","align":"center"},
 "encoding":{"x":{"field":"t","type":"quantitative","axis":null},"y":{"field":"f","type":"quantitative","axis":null},"text":{"field":"txt"}}}
],
"resolve":{"axis":{"x":"independent","y":"independent"}}
}
